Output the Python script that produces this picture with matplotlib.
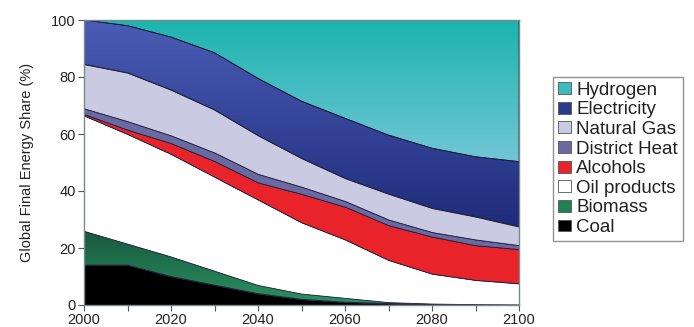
import matplotlib
matplotlib.use("Agg")
import matplotlib.pyplot as plt
import matplotlib.colors as mcolors
import numpy as np

# shares of global final energy (%)
years = [2000, 2010, 2020, 2030, 2040, 2050, 2060, 2070, 2080, 2090, 2100]
coal = [14, 14, 10, 7, 4, 2, 1, 0.5, 0.3, 0.2, 0]
biomass = [12, 7.5, 7, 5, 3, 2, 1.5, 0.5, 0.2, 0.1, 0.2]
oil_products = [40.5, 38.5, 36, 33, 30, 25, 20.5, 14.8, 10.5, 8.5, 7.4]
alcohols = [0.5, 1.5, 3.8, 5.5, 6, 10, 11.5, 12.2, 13, 12.2, 12]
district_heat = [2, 3, 2.7, 3, 3, 2.5, 2, 2, 1.6, 2, 1.4]
natural_gas = [15.5, 17, 16, 15, 13.5, 10, 8, 9, 8.4, 8, 6.5]
electricity = [15.5, 16.5, 18.5, 20, 20, 20, 21, 20.6, 21, 21, 22.8]
hydrogen = [0, 2, 6, 11.5, 20.5, 28.5, 34.5, 40.4, 45, 48, 49.7]

names = ["Coal", "Biomass", "Oil products", "Alcohols", "District Heat",
         "Natural Gas", "Electricity", "Hydrogen"]
layers = [coal, biomass, oil_products, alcohols, district_heat,
          natural_gas, electricity, hydrogen]
# (top colour, bottom colour) for a vertical gradient in each band
colors = [("#000000", "#000000"),
          ("#17563a", "#2a9363"),
          ("#ffffff", "#ffffff"),
          ("#e8242a", "#e8242a"),
          ("#6a6aa2", "#6a6aa2"),
          ("#cacae2", "#cacae2"),
          ("#4a5cb6", "#1f2c7a"),
          ("#1cb4ae", "#72c6d6")]
legend_colors = ["#000000", "#228055", "#ffffff", "#e8242a", "#6a6aa2",
                 "#cacae2", "#2a3a90", "#3cbcc0"]

plt.rcParams["font.family"] = ["Liberation Sans", "DejaVu Sans"]

fig = plt.figure(figsize=(6.94, 3.27), dpi=100)
ax = fig.add_axes([84 / 694, 22 / 327, 435 / 694, 285 / 327])

x = np.array(years, dtype=float)
bottom = np.zeros(len(years))
handles = []
for name, vals, (c_top, c_bot), lc in zip(names, layers, colors, legend_colors):
    top = bottom + np.array(vals)
    poly = ax.fill_between(x, bottom, top, facecolor=lc, edgecolor="#1a1a3a",
                           linewidth=0.6, zorder=2)
    if c_top != c_bot:
        # gradient fill clipped to the band
        poly.set_facecolor("none")
        cmap = mcolors.LinearSegmentedColormap.from_list("g", [c_bot, c_top])
        grad = np.linspace(0, 1, 256).reshape(-1, 1)
        im = ax.imshow(grad, cmap=cmap, aspect="auto", origin="lower",
                       extent=[2000, 2100, bottom.min(), top.max()], zorder=1.5)
        im.set_clip_path(poly.get_paths()[0], transform=ax.transData)
    handles.append(plt.Rectangle((0, 0), 1, 1, facecolor=lc,
                                 edgecolor="#555555", linewidth=0.6))
    bottom = top

ax.set_xlim(2000, 2100)
ax.set_ylim(0, 100)
ax.set_xticks(range(2000, 2101, 10))
ax.set_xticklabels([str(y) if y % 20 == 0 else "" for y in range(2000, 2101, 10)])
ax.set_yticks(range(0, 101, 20))
ax.tick_params(direction="out", length=4, width=0.8, color="#555555",
               labelsize=10.5, pad=2, labelcolor="#222222")
for s in ax.spines.values():
    s.set_color("#7a8a8a")
    s.set_linewidth(1.0)
    s.set_zorder(3)
ax.set_ylabel("Global Final Energy Share (%)", fontsize=10.5, labelpad=12,
              color="#222222")

leg = fig.legend(handles[::-1], names[::-1], loc="upper left",
                 bbox_to_anchor=(553 / 694, 1 - 77 / 327),
                 fontsize=13.5, frameon=True, fancybox=False,
                 handlelength=0.7, handleheight=0.6, handletextpad=0.3,
                 labelspacing=0.14, borderpad=0.25, borderaxespad=0)
leg.get_frame().set_edgecolor("#777777")
leg.get_frame().set_linewidth(1.0)
for t in leg.get_texts():
    t.set_color("#222222")

fig.savefig("out.png", dpi=100)
